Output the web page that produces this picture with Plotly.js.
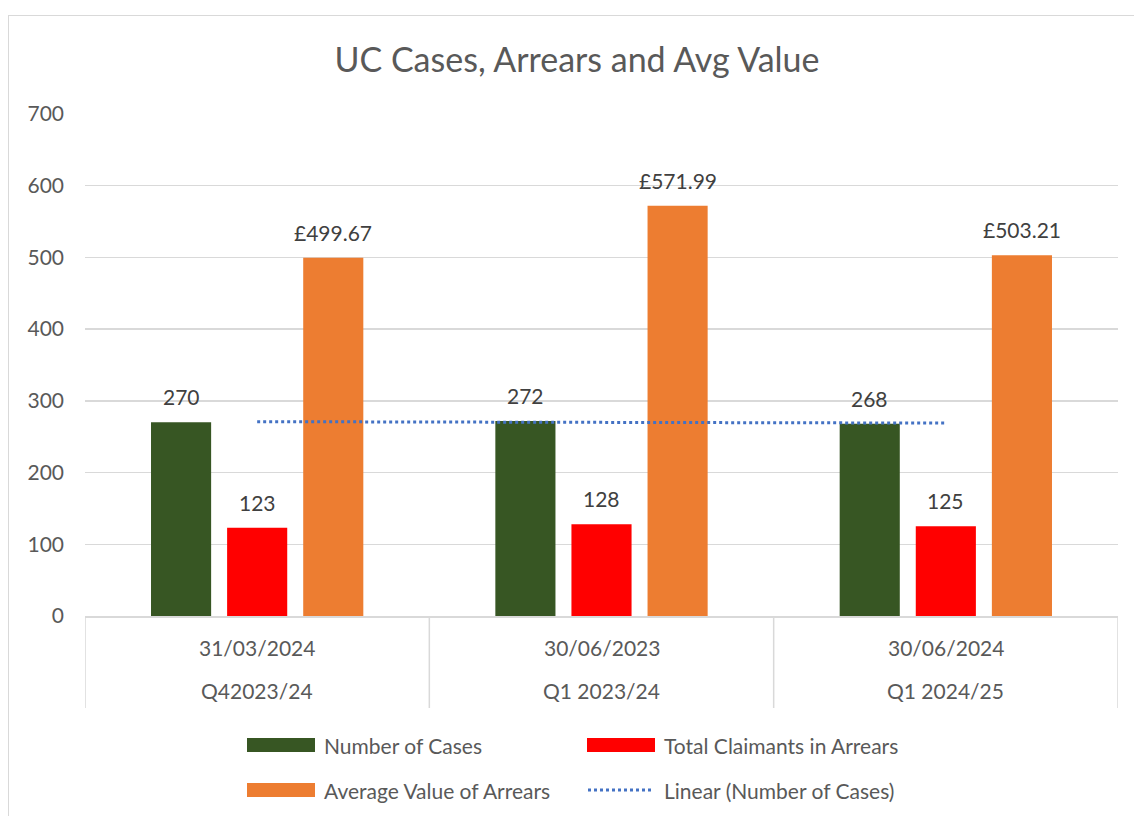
<!DOCTYPE html>
<html><head><meta charset="utf-8">
<script src="https://cdn.plot.ly/plotly-3.0.1.min.js"></script>
<style>
html,body{margin:0;padding:0;background:#fff;overflow:hidden;}
#chart{position:absolute;left:0;top:0;width:1134px;height:816px;}
#frame{position:absolute;left:8px;top:15px;width:1140px;height:820px;border:1px solid #d9d9d9;pointer-events:none;z-index:10;}
</style></head><body>
<div id="chart"></div>
<div id="frame"></div>
<script>
const quarters = ["Q42023/24", "Q1 2023/24", "Q1 2024/25"];
const dates = ["31/03/2024", "30/06/2023", "30/06/2024"];
const numberOfCases = [270, 272, 268];
const claimantsInArrears = [123, 128, 125];
const avgValueOfArrears = [499.67, 571.99, 503.21];
const trendNumberOfCases = [271, 270, 269];
const yTicks = [0, 100, 200, 300, 400, 500, 600, 700];

const FONT = "Lato, 'Open Sans', sans-serif";
const W = 1134, H = 816, ML = 85, MR = 16, MT = 114, MB = 200;
const pw = W - ML - MR, ph = H - MT - MB;
const toPX = px => (px - ML) / pw;
const toPY = py => 1 - (py - MT) / ph;
const BARGAP = 0.337, GROUPGAP = 0.21;
const slot = (1 - BARGAP) / 3;

const series = [
  {name:"Number of Cases", values:numberOfCases, color:"#375623", fmt:v => String(v)},
  {name:"Total Claimants in Arrears", values:claimantsInArrears, color:"#ff0000", fmt:v => String(v)},
  {name:"Average Value of Arrears", values:avgValueOfArrears, color:"#ed7d31", fmt:v => "£" + v.toFixed(2)}
];

const traces = series.map(s => ({
  type:"bar", x:dates, y:s.values, name:s.name, marker:{color:s.color}, hoverinfo:"y"
}));
traces.push({type:"scatter", mode:"lines", x:dates, y:trendNumberOfCases, name:"Linear (Number of Cases)",
  line:{color:"#4472c4", width:3, dash:"dot"}, hoverinfo:"y"});

const shapes = [], annotations = [];
// data labels
series.forEach((s, k) => {
  s.values.forEach((v, i) => {
    annotations.push({xref:"x", yref:"y", x:i + (k - 1) * slot, y:v, yanchor:"bottom", xanchor:"center",
      yshift:11, text:s.fmt(v), showarrow:false, font:{family:FONT, size:21, color:"#404040"}});
  });
});
// category label rows + dividers
dates.forEach((d, i) => {
  annotations.push({xref:"x", yref:"paper", x:i, y:toPY(647), yanchor:"middle", text:d, showarrow:false,
    font:{family:FONT, size:21, color:"#595959"}});
  annotations.push({xref:"x", yref:"paper", x:i, y:toPY(690), yanchor:"middle", text:quarters[i], showarrow:false,
    font:{family:FONT, size:21, color:"#595959"}});
});
for (let i = 0; i <= dates.length; i++) {
  shapes.push({type:"line", xref:"x", yref:"paper", x0:i - 0.5, x1:i - 0.5, y0:0, y1:toPY(708),
    line:{color:"#d9d9d9", width:1.5}});
}
// legend (Excel style)
const legendItems = [
  {label:"Number of Cases", color:"#375623", kind:"bar", px:247, py:745},
  {label:"Total Claimants in Arrears", color:"#ff0000", kind:"bar", px:587, py:745},
  {label:"Average Value of Arrears", color:"#ed7d31", kind:"bar", px:247, py:790},
  {label:"Linear (Number of Cases)", color:"#4472c4", kind:"line", px:587, py:790}
];
legendItems.forEach(it => {
  if (it.kind === "bar") {
    shapes.push({type:"rect", xref:"paper", yref:"paper", x0:toPX(it.px), x1:toPX(it.px + 68),
      y0:toPY(it.py - 7), y1:toPY(it.py + 7), fillcolor:it.color, line:{width:0}});
  } else {
    shapes.push({type:"line", xref:"paper", yref:"paper", x0:toPX(it.px + 1), x1:toPX(it.px + 67),
      y0:toPY(it.py), y1:toPY(it.py), line:{color:it.color, width:3, dash:"dot"}});
  }
  annotations.push({xref:"paper", yref:"paper", x:toPX(it.px + 75), y:toPY(it.py), xanchor:"left", yanchor:"middle",
    text:it.label, showarrow:false, font:{family:FONT, size:21, color:"#595959"}});
});

const layout = {
  width: W, height: H,
  margin: {l: ML, r: MR, t: MT, b: MB},
  paper_bgcolor: "#fff", plot_bgcolor: "#fff",
  font: {family: FONT, color: "#595959", size: 21},
  title: {text: "UC Cases, Arrears and Avg Value", x: 577 / W, xref: "container", xanchor: "center",
          y: 1 - 60 / H, yref: "container", yanchor: "middle",
          font: {family: FONT, size: 34, color: "#595959"}},
  barmode: "group", bargap: BARGAP, bargroupgap: GROUPGAP,
  showlegend: false,
  xaxis: {type: "category", showgrid: false, showline: true, linecolor: "#d9d9d9", linewidth: 1.5,
          showticklabels: false, ticks: "", range: [-0.5, 2.5], fixedrange: true},
  yaxis: {range: [0, 700], tickvals: yTicks, showgrid: true, gridcolor: "#d9d9d9", gridwidth: 1.3,
          zeroline: false, showline: false, ticks: "", ticklabelstandoff: 20,
          tickfont: {family: FONT, size: 21, color: "#595959"}, fixedrange: true},
  shapes: shapes, annotations: annotations
};

Plotly.newPlot("chart", traces, layout, {displayModeBar: false, staticPlot: true});
</script>
</body></html>
